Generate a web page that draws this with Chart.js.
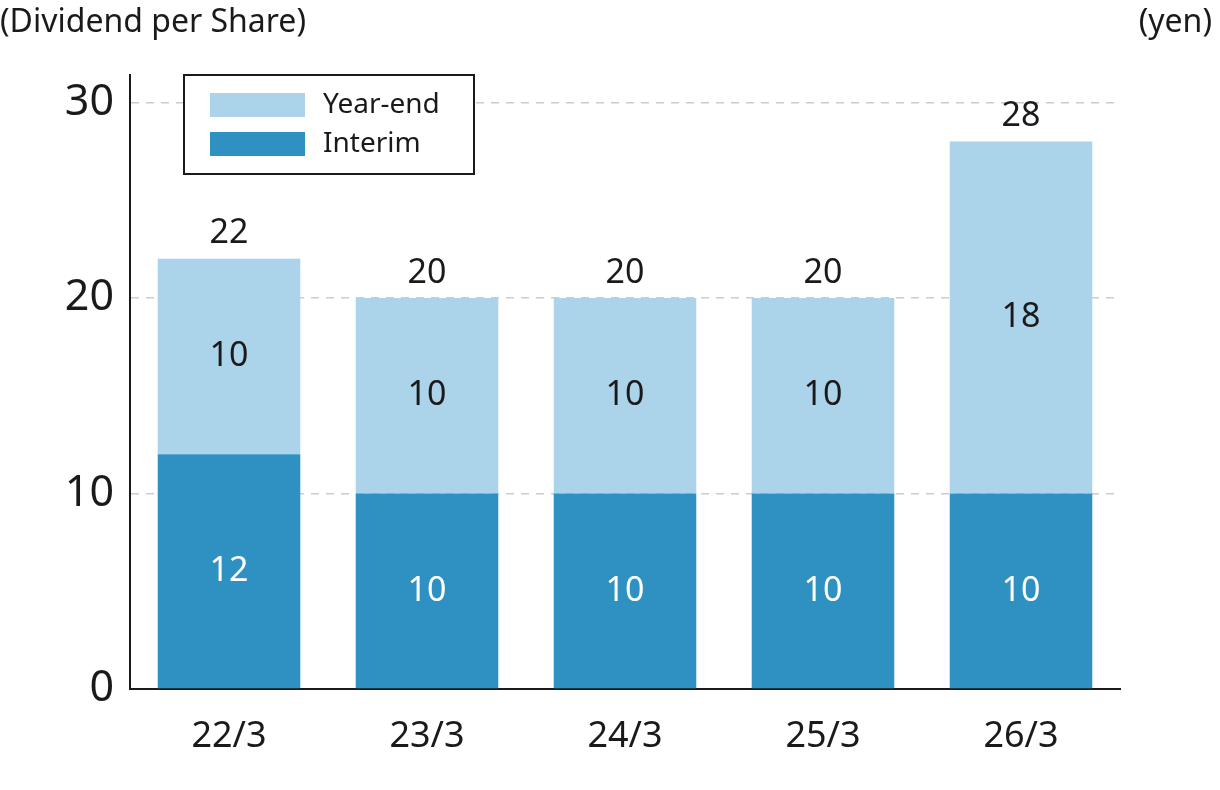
<!DOCTYPE html>
<html>
<head>
<meta charset="utf-8">
<script src="https://cdn.jsdelivr.net/npm/chart.js@4"></script>
<style>
  body { margin: 0; background: #fff; font-family: "Noto Sans", sans-serif; }
  #wrap { position: relative; width: 1220px; height: 790px; }
  .note { position: absolute; top: -2px; font-size: 32px; color: #1a1a1a; }
</style>
</head>
<body>
<div id="wrap">
  <canvas id="divChart" width="1220" height="790"></canvas>
  <div class="note" style="left:0">(Dividend per Share)</div>
  <div class="note" style="right:8px">(yen)</div>
</div>
<script>
// Data
const periods = ['22/3', '23/3', '24/3', '25/3', '26/3'];
const interim = [12, 10, 10, 10, 10];
const yearEnd = [10, 10, 10, 10, 18];
const yTicks = [0, 10, 20, 30];

const darkBlue = '#2f91c2';
const lightBlue = '#abd4ea';
const FONT = '"Noto Sans", sans-serif';

// value labels inside segments + totals on top
const valueLabels = {
    id: 'valueLabels',
    afterDatasetsDraw(chart) {
        const ctx = chart.ctx;
        ctx.save();
        ctx.font = '34px ' + FONT;
        ctx.textAlign = 'center';
        ctx.textBaseline = 'middle';
        chart.data.datasets.forEach((ds, di) => {
            chart.getDatasetMeta(di).data.forEach((bar, i) => {
                ctx.fillStyle = di === 0 ? '#ffffff' : '#1a1a1a';
                ctx.fillText(ds.data[i], bar.x, (bar.y + bar.base) / 2);
            });
        });
        const top = chart.getDatasetMeta(1).data;
        ctx.fillStyle = '#1a1a1a';
        top.forEach((bar, i) => {
            ctx.fillText(interim[i] + yearEnd[i], bar.x, bar.y - 25);
        });
        ctx.restore();
    }
};

// boxed legend inside the plot
const boxLegend = {
    id: 'boxLegend',
    afterDraw(chart) {
        const ctx = chart.ctx;
        const x = 184, y = 75, w = 290, h = 99;
        ctx.save();
        ctx.fillStyle = '#fff';
        ctx.fillRect(x, y, w, h);
        ctx.strokeStyle = '#1a1a1a';
        ctx.lineWidth = 2;
        ctx.strokeRect(x, y, w, h);
        ctx.font = '28px ' + FONT;
        ctx.textBaseline = 'middle';
        const items = [chart.data.datasets[1], chart.data.datasets[0]];
        items.forEach((ds, k) => {
            const cy = 105 + k * 39;
            ctx.fillStyle = ds.backgroundColor;
            ctx.fillRect(210, cy - 12, 95, 24);
            ctx.fillStyle = '#1a1a1a';
            ctx.fillText(ds.label, 323, cy);
        });
        ctx.restore();
    }
};

const ctx = document.getElementById('divChart').getContext('2d');
new Chart(ctx, {
    type: 'bar',
    data: {
        labels: periods,
        datasets: [
            { label: 'Interim', data: interim, backgroundColor: darkBlue },
            { label: 'Year-end', data: yearEnd, backgroundColor: lightBlue }
        ]
    },
    options: {
        responsive: false,
        animation: false,
        layout: { padding: { top: 75, right: 100, left: 0, bottom: 0 } },
        plugins: {
            legend: { display: false },
            tooltip: { enabled: false }
        },
        datasets: {
            bar: { categoryPercentage: 0.72, barPercentage: 1 }
        },
        scales: {
            x: {
                stacked: true,
                grid: { display: false },
                border: { display: true, color: '#1a1a1a', width: 2 },
                ticks: { color: '#1a1a1a', font: { family: FONT, size: 36 }, padding: 18 },
                afterFit(scale) { scale.height = 101; }
            },
            y: {
                stacked: true,
                min: 0,
                max: 31.4,
                afterBuildTicks(scale) { scale.ticks = yTicks.map(v => ({ value: v })); },
                grid: {
                    drawTicks: false,
                    color: c => (c.tick && c.tick.value === 0) ? 'rgba(0,0,0,0)' : '#cccccc',
                    lineWidth: 1.5
                },
                border: { display: true, color: '#1a1a1a', width: 2, dash: [8, 7] },
                ticks: { color: '#1a1a1a', font: { family: FONT, size: 43 }, padding: 16 },
                afterFit(scale) { scale.width = 130; }
            }
        }
    },
    plugins: [valueLabels, boxLegend]
});
</script>
</body>
</html>
